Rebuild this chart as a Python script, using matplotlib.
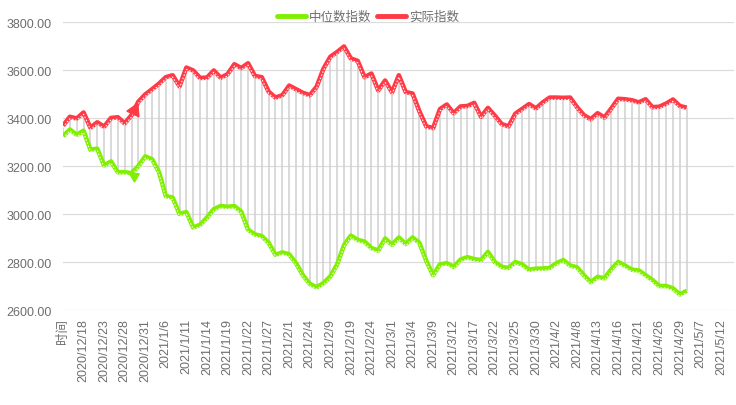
import matplotlib.pyplot as plt
from matplotlib.lines import Line2D
from matplotlib.transforms import offset_copy

plt.rcParams['font.family'] = ['Liberation Sans', 'Noto Sans CJK SC']

# x 轴标签（每 3 个类目显示一个）
tick_labels = ['时间', '2020/12/18', '2020/12/23', '2020/12/28', '2020/12/31',
               '2021/1/6', '2021/1/11', '2021/1/14', '2021/1/19', '2021/1/22',
               '2021/1/27', '2021/2/1', '2021/2/4', '2021/2/9', '2021/2/19',
               '2021/2/24', '2021/3/1', '2021/3/4', '2021/3/9', '2021/3/12',
               '2021/3/17', '2021/3/22', '2021/3/25', '2021/3/30', '2021/4/2',
               '2021/4/8', '2021/4/13', '2021/4/16', '2021/4/21', '2021/4/26',
               '2021/4/29', '2021/5/7', '2021/5/12']

# 实际指数
actual = [3368, 3405, 3398, 3423, 3360, 3382, 3364, 3400, 3403, 3378,
          3412, 3468, 3498, 3520, 3543, 3570, 3578, 3532, 3610, 3598,
          3567, 3568, 3598, 3568, 3582, 3624, 3608, 3628, 3575, 3570,
          3510, 3485, 3495, 3535, 3520, 3505, 3495, 3530, 3605, 3655,
          3675, 3698, 3648, 3638, 3570, 3585, 3515, 3556, 3507, 3578,
          3508, 3502, 3428, 3365, 3358, 3437, 3456, 3420, 3448, 3450,
          3463, 3405, 3442, 3410, 3375, 3365, 3418, 3438, 3458, 3440,
          3465, 3485, 3485, 3484, 3485, 3445, 3412, 3395, 3420, 3402,
          3440, 3480, 3478, 3474, 3465, 3478, 3445, 3447, 3460, 3477,
          3450, 3443]

# 中位数指数
median = [3324, 3352, 3330, 3347, 3268, 3272, 3202, 3219, 3174, 3174,
          3170, 3200, 3240, 3228, 3175, 3075, 3068, 3000, 3008, 2944,
          2955, 2985, 3020, 3033, 3030, 3033, 3010, 2935, 2915, 2908,
          2880, 2830, 2840, 2832, 2795, 2745, 2709, 2695, 2712, 2740,
          2790, 2870, 2910, 2892, 2885, 2858, 2848, 2898, 2872, 2902,
          2875, 2902, 2880, 2805, 2745, 2790, 2795, 2780, 2810, 2820,
          2812, 2808, 2842, 2800, 2780, 2775, 2800, 2790, 2768, 2772,
          2773, 2775, 2795, 2808, 2785, 2778, 2745, 2716, 2738, 2732,
          2770, 2800, 2785, 2768, 2765, 2745, 2725, 2700, 2700, 2690,
          2665, 2680]

RED = '#ff3a47'
GREEN = '#80f000'
TXT = '#6e6e6e'

fig = plt.figure(figsize=(7.36, 4.06), dpi=100)
ax = fig.add_axes([63/736, 95/406, 671/736, 288/406])

x = list(range(len(actual)))

ax.vlines(x, median, actual, color='#cfcfcf', lw=1.1, zorder=1)

shift = offset_copy(ax.transData, fig=fig, x=0, y=-1.3, units='points')
for vals, c in [(median, GREEN), (actual, RED)]:
    ax.plot(x, vals, color=c, lw=3.3, solid_joinstyle='round', solid_capstyle='butt', zorder=3)
    ax.plot(x, vals, color='white', lw=0.8, dashes=(1.5, 1.5), alpha=0.9,
            transform=shift, zorder=4)

# 折线上的箭头
ax.plot([10.3], [3434], marker=(3, 0, -25), ms=11, color=RED, zorder=5)
ax.plot([10.4], [3158], marker=(3, 0, 180), ms=8, color=GREEN, zorder=5)

ax.set_ylim(2600, 3800)
ax.set_xlim(0, 97.9)
ax.set_yticks(range(2600, 3801, 200))
ax.set_yticklabels([f'{v:.2f}' for v in range(2600, 3801, 200)])
ax.set_xticks(range(0, 3*len(tick_labels), 3))
ax.set_xticklabels(tick_labels, rotation=90, va='top', ha='center')
ax.tick_params(length=0, labelsize=9, colors=TXT)
ax.tick_params(axis='y', pad=8)
ax.tick_params(axis='x', pad=6)
ax.grid(axis='y', color='#dcdcdc', lw=0.9)
ax.set_axisbelow(True)
for s in ax.spines.values():
    s.set_visible(False)

handles = [Line2D([], [], color=GREEN, lw=3.5, solid_capstyle='round'),
           Line2D([], [], color=RED, lw=3.5, solid_capstyle='round')]
fig.legend(handles, ['中位数指数', '实际指数'], loc='center', bbox_to_anchor=(0.5, 1 - 18/406),
           ncol=2, frameon=False, fontsize=9, labelcolor=TXT, handlelength=2.3,
           handletextpad=0.3, columnspacing=0.4)

fig.savefig('out.png', dpi=100)
